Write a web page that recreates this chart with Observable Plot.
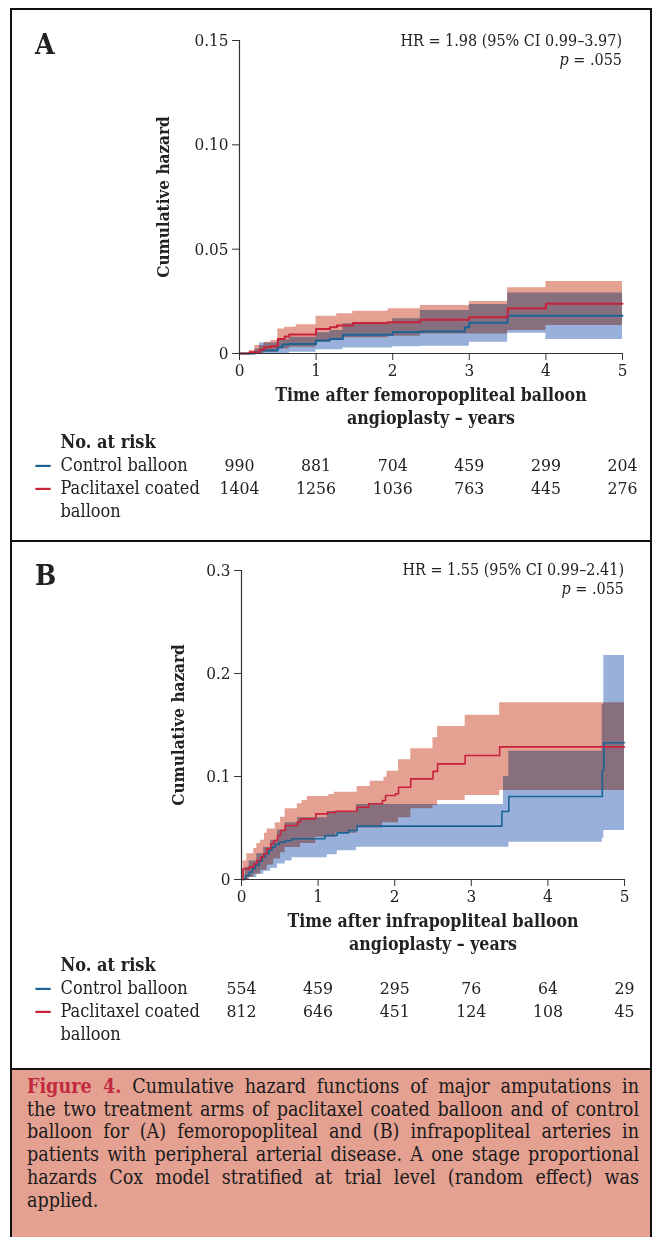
<!DOCTYPE html>
<html><head><meta charset="utf-8">
<script src="https://cdn.jsdelivr.net/npm/d3@7"></script>
<script src="https://cdn.jsdelivr.net/npm/@observablehq/plot@0.6"></script>
<style>
html,body{margin:0;padding:0;background:#fff;}
#page{position:relative;width:662px;height:1237px;overflow:hidden;font-family:"DejaVu Serif Condensed","DejaVu Serif",serif;color:#222;}
#frame{position:absolute;left:10px;top:8px;width:638px;height:1300px;border:2px solid #111;border-bottom:none;}
.divider{position:absolute;left:10px;width:642px;height:2px;background:#111;}
.panel{position:absolute;left:0;}
.letter{position:absolute;font-weight:bold;font-size:28px;}
.stat{position:absolute;right:40px;font-size:16px;text-align:right;white-space:nowrap;}
#caption{position:absolute;left:10px;top:1068px;width:612px;height:200px;background:#e4a192;border:2px solid #111;border-bottom:none;padding:6px 11px 0 15px;font-family:"DejaVu Serif Condensed","DejaVu Serif",serif;font-size:19.5px;line-height:22.7px;color:#1a1a1a;}
#caption .ln{text-align:justify;text-align-last:justify;white-space:nowrap;}
#caption .ln.last{text-align-last:left;}
#caption b{color:#c22a3e;}
</style>
</head><body>
<div id="page">
  <div id="frame"></div>
  <div class="divider" style="top:540px"></div>
  <div class="panel" id="pa" style="top:0"></div>
  <div class="panel" id="pb" style="top:540px"></div>
  <div class="letter" style="left:35px;top:28px">A</div>
  <div class="stat" style="top:31px">HR = 1.98 (95% CI 0.99–3.97)</div>
  <div class="stat" style="top:50px"><i>p</i> = .055</div>
  <div class="letter" style="left:35px;top:559px">B</div>
  <div class="stat" style="top:560px;right:38px">HR = 1.55 (95% CI 0.99–2.41)</div>
  <div class="stat" style="top:579px;right:38px"><i>p</i> = .055</div>
  <div id="caption">
    <div class="ln"><b>Figure 4.</b> Cumulative hazard functions of major amputations in</div>
    <div class="ln">the two treatment arms of paclitaxel coated balloon and of control</div>
    <div class="ln">balloon for (A) femoropopliteal and (B) infrapopliteal arteries in</div>
    <div class="ln">patients with peripheral arterial disease. A one stage proportional</div>
    <div class="ln">hazards Cox model stratified at trial level (random effect) was</div>
    <div class="ln last">applied.</div>
  </div>
</div>
<script>
// ---------- shared ----------
const xTicks = [0, 1, 2, 3, 4, 5];
const seriesNames = ["Control balloon", "Paclitaxel coated", "balloon"];

// ---------- Panel A: femoropopliteal ----------
const aYTicks = [0, 0.05, 0.10, 0.15];
const aYTickLabels = ["0", "0.05", "0.10", "0.15"];
const aCtrlT   = [0, 0.20, 0.26, 0.50, 0.56, 0.65, 1.00, 1.18, 1.35, 2.00, 2.36, 2.94, 3.00, 3.50, 5.00];
const aCtrlEst = [0, 0.0006, 0.0014, 0.0030, 0.0043, 0.0046, 0.0062, 0.0070, 0.0090, 0.0102, 0.0105, 0.0126, 0.0147, 0.0181, 0.0181];
const aCtrlBandT = [0, 0.20, 0.26, 0.50, 0.65, 1.00, 1.18, 1.35, 2.00, 2.36, 3.00, 3.50, 4.00, 5.00];
const aCtrlLo    = [0, 0, 0, 0, 0.0006, 0.0018, 0.0018, 0.0026, 0.0032, 0.0035, 0.0054, 0.0097, 0.0067, 0.0067];
const aCtrlHi    = [0, 0.0022, 0.0050, 0.0066, 0.0078, 0.0099, 0.0110, 0.0142, 0.0166, 0.0206, 0.0235, 0.0290, 0.0290, 0.0290];
const aPacT   = [0, 0.13, 0.26, 0.32, 0.41, 0.50, 0.59, 0.65, 1.00, 1.18, 1.27, 1.48, 1.94, 2.36, 3.00, 3.50, 4.00, 5.00];
const aPacEst = [0, 0.0006, 0.0018, 0.0030, 0.0035, 0.0070, 0.0082, 0.0091, 0.0118, 0.0126, 0.0134, 0.0146, 0.0150, 0.0162, 0.0174, 0.0216, 0.0238, 0.0238];
const aPacBandT = [0, 0.13, 0.20, 0.32, 0.41, 0.50, 0.59, 0.65, 0.74, 1.00, 1.18, 1.27, 1.35, 1.48, 1.94, 2.36, 3.00, 3.50, 4.00, 5.00];
const aPacLo    = [0, 0, 0, 0.0006, 0.0006, 0.0022, 0.0022, 0.0030, 0.0030, 0.0054, 0.0062, 0.0062, 0.0075, 0.0075, 0.0083, 0.0094, 0.0094, 0.0110, 0.0134, 0.0134];
const aPacHi    = [0, 0.0014, 0.0038, 0.0054, 0.0062, 0.0118, 0.0126, 0.0126, 0.0138, 0.0178, 0.0178, 0.0190, 0.0190, 0.0202, 0.0214, 0.0230, 0.0249, 0.0315, 0.0345, 0.0345];
const aCtrlRisk = [990, 881, 704, 459, 299, 204];
const aPacRisk  = [1404, 1256, 1036, 763, 445, 276];
const aXTitle = ["Time after femoropopliteal balloon", "angioplasty – years"];

// ---------- Panel B: infrapopliteal ----------
const bYTicks = [0, 0.1, 0.2, 0.3];
const bYTickLabels = ["0", "0.1", "0.2", "0.3"];
const bCtrlT   = [0, 0.05, 0.10, 0.14, 0.18, 0.23, 0.27, 0.31, 0.36, 0.40, 0.44, 0.49, 0.57, 0.66, 1.09, 1.25, 1.40, 1.51, 3.40, 3.49, 4.71, 4.73, 5.00];
const bCtrlEst = [0, 0.0039, 0.0071, 0.0104, 0.0136, 0.0178, 0.0217, 0.0250, 0.0288, 0.0314, 0.0340, 0.0362, 0.0379, 0.0395, 0.0427, 0.0453, 0.0476, 0.0518, 0.0660, 0.0806, 0.1058, 0.1327, 0.1327];
const bCtrlBandT = [0, 0.05, 0.10, 0.20, 0.29, 0.38, 0.47, 0.57, 0.66, 0.73, 1.12, 1.25, 1.50, 3.42, 3.49, 4.71, 4.73, 5.00];
const bCtrlLo    = [0, 0, 0.002, 0.005, 0.008, 0.011, 0.015, 0.018, 0.021, 0.021, 0.024, 0.028, 0.0314, 0.0314, 0.0362, 0.0400, 0.0476, 0.0476];
const bCtrlHi    = [0, 0.012, 0.018, 0.025, 0.031, 0.038, 0.048, 0.055, 0.055, 0.060, 0.066, 0.066, 0.0728, 0.1000, 0.1246, 0.1700, 0.2175, 0.2175];
const bPacT   = [0, 0.02, 0.10, 0.16, 0.20, 0.25, 0.29, 0.33, 0.38, 0.42, 0.47, 0.51, 0.57, 0.73, 0.77, 0.97, 1.12, 1.23, 1.51, 1.66, 1.84, 1.88, 2.01, 2.05, 2.21, 2.50, 2.56, 2.92, 3.37, 5.00];
const bPacEst = [0, 0.0104, 0.0120, 0.0152, 0.0185, 0.0217, 0.0250, 0.0298, 0.0346, 0.0379, 0.0427, 0.0476, 0.0524, 0.0557, 0.0589, 0.0637, 0.0650, 0.0663, 0.0702, 0.0735, 0.0767, 0.0815, 0.0832, 0.0896, 0.0977, 0.1050, 0.1123, 0.1204, 0.1288, 0.1288];
const bPacBandT = [0, 0.02, 0.07, 0.10, 0.16, 0.20, 0.25, 0.30, 0.335, 0.42, 0.44, 0.51, 0.57, 0.73, 0.77, 0.79, 0.86, 0.97, 1.14, 1.21, 1.23, 1.51, 1.68, 1.84, 1.86, 1.90, 2.05, 2.21, 2.50, 2.56, 2.92, 3.37, 5.00];
const bPacLo    = [0, 0, 0, 0.002, 0.005, 0.005, 0.009, 0.009, 0.014, 0.020, 0.020, 0.026, 0.031, 0.031, 0.035, 0.035, 0.035, 0.041, 0.041, 0.041, 0.045, 0.050, 0.050, 0.055, 0.055, 0.055, 0.060, 0.0686, 0.0718, 0.0767, 0.0816, 0.0864, 0.0864];
const bPacHi    = [0, 0.018, 0.025, 0.025, 0.030, 0.035, 0.038, 0.045, 0.049, 0.049, 0.055, 0.0605, 0.0686, 0.0735, 0.0735, 0.0767, 0.0806, 0.0806, 0.0825, 0.0848, 0.0848, 0.0903, 0.0955, 0.0955, 0.0993, 0.1052, 0.1162, 0.1269, 0.1376, 0.1485, 0.1595, 0.1715, 0.1715];
const bCtrlRisk = [554, 459, 295, 76, 64, 29];
const bPacRisk  = [812, 646, 451, 124, 108, 45];
const bXTitle = ["Time after infrapopliteal balloon", "angioplasty – years"];

// ---------- colours ----------
const BLUE = "#1b6395", RED = "#c8213b";
const BLUE_FILL = "#98b0da", RED_FILL = "#e4a192";

function rows(T, a, b) { return T.map((t, i) => ({t, v: a[i], w: b ? b[i] : undefined})); }

function panel(c) {
  const ctrlLine = rows(c.ctrlT, c.ctrlEst);
  const pacLine = rows(c.pacT, c.pacEst);
  const ctrlBand = rows(c.ctrlBandT, c.ctrlLo, c.ctrlHi);
  const pacBand = rows(c.pacBandT, c.pacLo, c.pacHi);
  const lab = new Map(c.yTicks.map((d, i) => [d, c.yLabels[i]]));
  const L = 60 - c.ml;  // row label offset from frame left
  const txt = {frameAnchor: "bottom-left", textAnchor: "start", fontSize: 18};
  return Plot.plot({
    width: 662, height: c.height,
    marginLeft: c.ml, marginRight: c.mr, marginTop: c.mt, marginBottom: c.mb,
    x: {domain: [0, 5]},
    y: {domain: c.yDomain},
    style: {fontFamily: "'DejaVu Serif Condensed', 'DejaVu Serif', serif", fontSize: "17px", color: "#222", background: "transparent", overflow: "visible"},
    marks: [
      Plot.areaY(ctrlBand, {x: "t", y1: "v", y2: "w", curve: "step-after", fill: BLUE_FILL}),
      Plot.areaY(pacBand, {x: "t", y1: "v", y2: "w", curve: "step-after", fill: RED_FILL, mixBlendMode: "multiply"}),
      Plot.lineY(ctrlLine, {x: "t", y: "v", curve: "step-after", stroke: BLUE, strokeWidth: c.sw}),
      Plot.lineY(pacLine, {x: "t", y: "v", curve: "step-after", stroke: RED, strokeWidth: c.sw}),
      Plot.ruleX([0], {stroke: "#333", strokeWidth: 1.2}),
      Plot.ruleY([0], {stroke: "#333", strokeWidth: 1.2}),
      Plot.axisX({ticks: xTicks, tickFormat: d => String(d), tickSize: 7, tickPadding: 3, label: null, stroke: "#333", fontSize: 17}),
      Plot.axisY({ticks: c.yTicks, tickFormat: d => lab.get(d), tickSize: 7, tickPadding: 4, label: null, stroke: "#333", fontSize: 17}),
      Plot.text(["Cumulative hazard"], {frameAnchor: "left", textAnchor: "middle", dx: c.ytx - c.ml, rotate: -90, fontWeight: "bold", fontSize: 17}),
      Plot.text([c.xTitle[0]], {frameAnchor: "bottom", textAnchor: "middle", dy: c.t1, fontWeight: "bold", fontSize: 17.6}),
      Plot.text([c.xTitle[1]], {frameAnchor: "bottom", textAnchor: "middle", dy: c.t1 + 23, fontWeight: "bold", fontSize: 17.6}),
      Plot.text(["No. at risk"], {...txt, dx: L, dy: c.r0, fontWeight: "bold"}),
      Plot.text(["—"], {...txt, dx: 34 - c.ml, dy: c.r0 + 23, fill: BLUE, fontSize: 19, fontWeight: "bold"}),
      Plot.text(["—"], {...txt, dx: 34 - c.ml, dy: c.r0 + 46, fill: RED, fontSize: 19, fontWeight: "bold"}),
      Plot.text([seriesNames[0]], {...txt, dx: L, dy: c.r0 + 23}),
      Plot.text([seriesNames[1]], {...txt, dx: L, dy: c.r0 + 46}),
      Plot.text([seriesNames[2]], {...txt, dx: L, dy: c.r0 + 69}),
      Plot.text(xTicks, {x: d => d, frameAnchor: "bottom", dy: c.r0 + 23, text: (d, i) => String(c.ctrlRisk[i]), fontSize: 17.5}),
      Plot.text(xTicks, {x: d => d, frameAnchor: "bottom", dy: c.r0 + 46, text: (d, i) => String(c.pacRisk[i]), fontSize: 17.5})
    ]
  });
}

document.getElementById("pa").append(panel({
  height: 540, ml: 239, mr: 40, mt: 40, mb: 187, sw: 2, ytx: 163, t1: 47, r0: 94,
  yDomain: [0, 0.15], yTicks: aYTicks, yLabels: aYTickLabels, xTitle: aXTitle,
  ctrlT: aCtrlT, ctrlEst: aCtrlEst, ctrlBandT: aCtrlBandT, ctrlLo: aCtrlLo, ctrlHi: aCtrlHi,
  pacT: aPacT, pacEst: aPacEst, pacBandT: aPacBandT, pacLo: aPacLo, pacHi: aPacHi,
  ctrlRisk: aCtrlRisk, pacRisk: aPacRisk
}));
document.getElementById("pb").append(panel({
  height: 520, ml: 241, mr: 38, mt: 30, mb: 181, sw: 1.6, ytx: 178, t1: 47, r0: 91,
  yDomain: [0, 0.3], yTicks: bYTicks, yLabels: bYTickLabels, xTitle: bXTitle,
  ctrlT: bCtrlT, ctrlEst: bCtrlEst, ctrlBandT: bCtrlBandT, ctrlLo: bCtrlLo, ctrlHi: bCtrlHi,
  pacT: bPacT, pacEst: bPacEst, pacBandT: bPacBandT, pacLo: bPacLo, pacHi: bPacHi,
  ctrlRisk: bCtrlRisk, pacRisk: bPacRisk
}));
</script>
</body></html>
